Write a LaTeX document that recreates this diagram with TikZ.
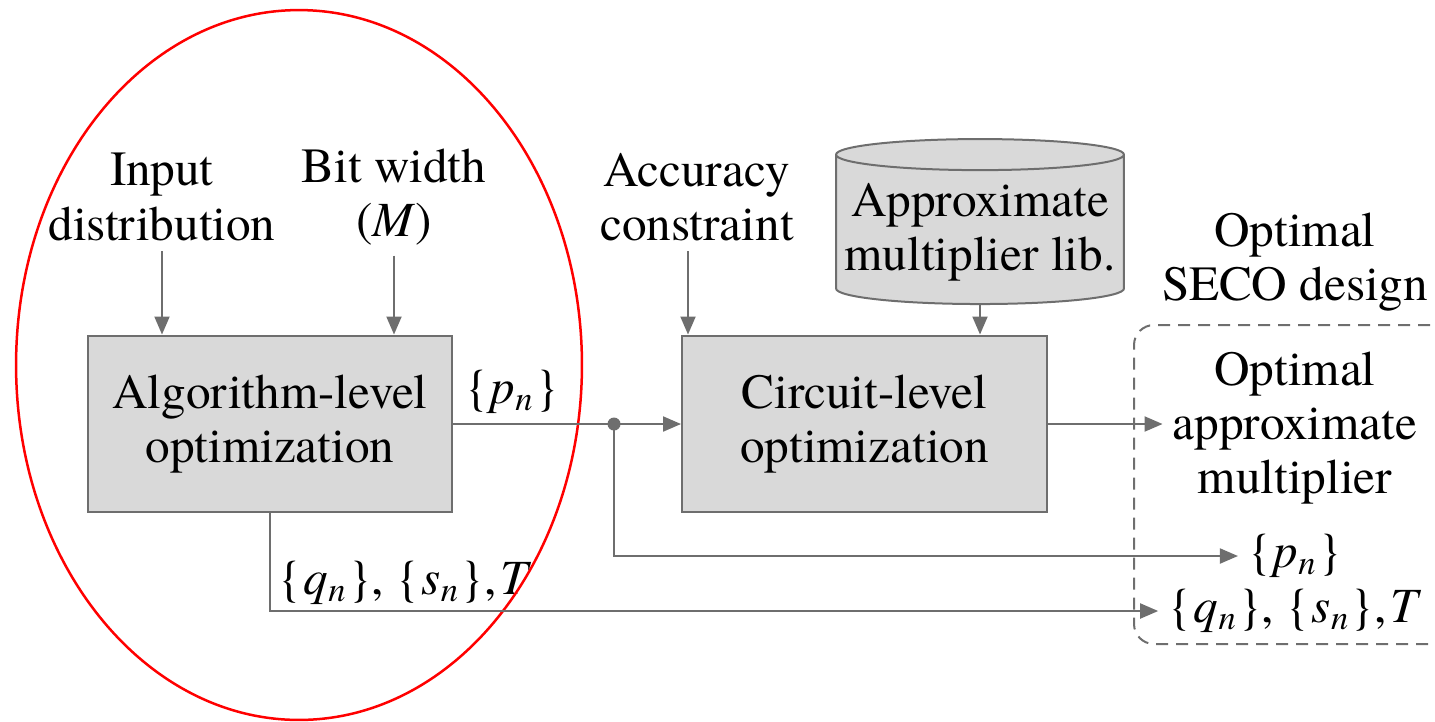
\documentclass[tikz,border=0pt]{standalone}
\usepackage{fontspec}
\setmainfont{texgyretermes}[Extension=.otf, UprightFont=*-regular,
  ItalicFont=*-italic, BoldFont=*-bold, BoldItalicFont=*-bolditalic]
\usetikzlibrary{arrows.meta}
\usetikzlibrary{fit}
\usetikzlibrary{positioning}
\usetikzlibrary{shapes.geometric}

\definecolor{linegray}{HTML}{6E6E6E}
\definecolor{boxgray}{HTML}{D9D9D9}

\newcommand{\seqn}[1]{\{\kern1pt\textit{#1}\textsubscript{\textit{n}}\kern1pt\}}

\begin{document}
\begin{tikzpicture}[x=0.02cm, y=-0.02cm,
    font=\fontsize{28}{31}\selectfont,
    lbl/.style={align=center, inner sep=0.2cm},
    block/.style={draw=linegray, fill=boxgray, line width=0.04cm, align=center,
      minimum width=7.3cm, minimum height=3.54cm},
    link/.style={linegray, line width=0.04cm},
    arr/.style={link, -{Triangle[length=0.36cm,width=0.3cm]}}]
  \useasboundingbox (0,0) rectangle (1435,721);

  \node (input) [lbl] at (162,197) {Input\\distribution};
  \node (bitw) [lbl] at (394,197) {Bit width\\(\textit{M})};
  \node (acc) [lbl] at (697,197) {Accuracy\\constraint};
  \node (lib) [cylinder, shape border rotate=90, aspect=0.11, draw=linegray, fill=boxgray,
    line width=0.04cm, align=center, minimum width=5.76cm, minimum height=3.3cm]
    at (980,232) {Approximate\\multiplier lib.};
  \node (seco) [lbl] at (1295,262) {Optimal\\SECO design};

  \node (algo) [block] at (270,424) {Algorithm-level\\optimization};
  \node (circ) [block] at (864.5,424) {Circuit-level\\optimization};

  \node (design) [draw=linegray, dashed, dash pattern=on 0.24cm off 0.16cm, line width=0.04cm,
    rounded corners=0.4cm, inner sep=0pt, fit={(1134,325) (1470,644)}] {};
  \node (mult) [lbl] at (1295,428) {Optimal\\approximate\\multiplier};
  \node (pout) [lbl] at (1295,556) {\seqn{p}};
  \node (qout) [lbl] at (1295,611) {\seqn{q}, \seqn{s},\kern2pt\textit{T}};

  \node (split) [circle, fill=linegray, inner sep=0pt, minimum size=0.26cm] at (614,424) {};
  \node (plabel) at (512,392) {\seqn{p}};
  \node (qlabel) [anchor=west, inner sep=0.2cm] at (268,583) {\seqn{q}, \seqn{s},\kern2pt\textit{T}};

  \node (focus) [ellipse, draw=red, line width=0.05cm, inner sep=0pt,
    minimum width=11.32cm, minimum height=14.2cm] at (299,365) {};

  \draw [arr] (input) -- (input |- algo.north);
  \draw [arr] (bitw) -- (bitw |- algo.north);
  \draw [arr] (acc.south -| 688,0) -- (688,0 |- circ.north);
  \draw [arr] (lib) -- (lib |- circ.north);
  \draw [link] (algo.east) -- (split.center);
  \draw [arr] (split.center) -- (circ.west);
  \draw [arr] (split.center) |- (pout);
  \draw [arr] (circ.east) -- (circ.east -| mult.west);
  \draw [arr] (algo.south) |- (qout);
\end{tikzpicture}
\end{document}
